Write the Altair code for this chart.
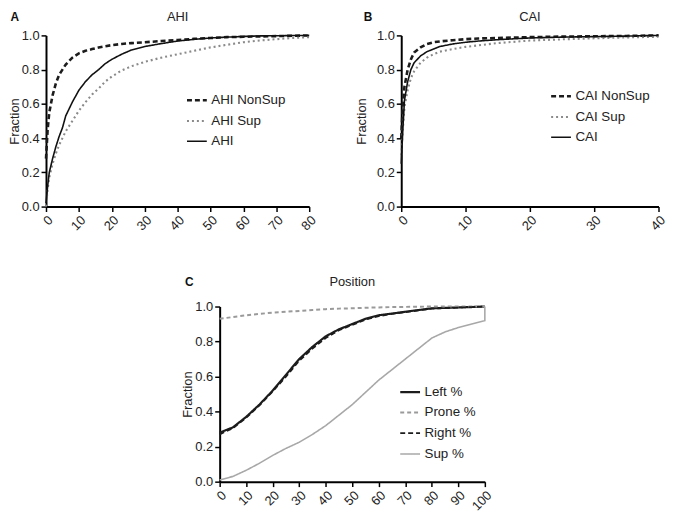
import altair as alt
import pandas as pd

FONT = "Liberation Sans"

# ---------------- Panel A: AHI ----------------
ahi_x = [0, 0.5, 1, 2, 3, 4, 5, 6, 8, 10, 12, 14, 16, 18, 20, 23, 26, 30, 35, 40, 45, 50, 55, 60, 65, 70, 75, 80]
ahi_nonsup = [0.28, 0.45, 0.55, 0.65, 0.72, 0.77, 0.80, 0.83, 0.87, 0.895, 0.91, 0.92, 0.93, 0.937, 0.943, 0.95, 0.955,
              0.96, 0.967, 0.973, 0.98, 0.985, 0.99, 0.992, 0.994, 0.996, 0.998, 1.0]
ahi_sup = [0.0, 0.10, 0.17, 0.25, 0.31, 0.36, 0.40, 0.44, 0.50, 0.56, 0.61, 0.655, 0.69, 0.73, 0.76, 0.795, 0.82,
           0.845, 0.87, 0.89, 0.91, 0.93, 0.945, 0.96, 0.97, 0.978, 0.985, 0.99]
ahi_all = [0.02, 0.12, 0.20, 0.28, 0.35, 0.41, 0.46, 0.53, 0.61, 0.68, 0.73, 0.77, 0.80, 0.835, 0.86, 0.89, 0.915,
           0.935, 0.952, 0.967, 0.977, 0.985, 0.99, 0.994, 0.997, 0.998, 0.999, 1.0]
ahi_series = ["AHI NonSup", "AHI Sup", "AHI"]

# ---------------- Panel B: CAI ----------------
cai_x = [0, 0.25, 0.5, 1, 1.5, 2, 3, 4, 5, 6, 8, 10, 12, 15, 20, 25, 30, 35, 40]
cai_nonsup = [0.40, 0.60, 0.70, 0.80, 0.86, 0.90, 0.93, 0.95, 0.96, 0.965, 0.972, 0.978, 0.982, 0.985, 0.99, 0.993,
              0.995, 0.997, 1.0]
cai_sup = [0.30, 0.45, 0.58, 0.68, 0.75, 0.79, 0.84, 0.87, 0.89, 0.905, 0.92, 0.933, 0.942, 0.955, 0.97, 0.977,
           0.983, 0.988, 0.992]
cai_all = [0.25, 0.45, 0.62, 0.73, 0.80, 0.84, 0.88, 0.905, 0.92, 0.935, 0.95, 0.96, 0.967, 0.975, 0.985, 0.99,
           0.993, 0.996, 1.0]
cai_series = ["CAI NonSup", "CAI Sup", "CAI"]

# ---------------- Panel C: Position ----------------
pos_x = [0, 5, 10, 15, 20, 25, 30, 35, 40, 45, 50, 55, 60, 65, 70, 75, 80, 85, 90, 95, 100]
pos_left = [0.28, 0.31, 0.37, 0.44, 0.52, 0.61, 0.70, 0.77, 0.83, 0.87, 0.90, 0.93, 0.95, 0.96, 0.97, 0.98, 0.99,
            0.992, 0.995, 0.997, 1.0]
pos_prone = [0.93, 0.94, 0.95, 0.958, 0.965, 0.97, 0.975, 0.98, 0.985, 0.988, 0.99, 0.993, 0.995, 0.997, 0.998,
             0.999, 1.0, 1.0, 1.0, 1.0, 1.0]
pos_right = [0.27, 0.305, 0.365, 0.435, 0.515, 0.60, 0.69, 0.76, 0.82, 0.865, 0.895, 0.925, 0.945, 0.958, 0.968,
             0.978, 0.988, 0.991, 0.994, 0.997, 1.0]
pos_sup = [0.01, 0.03, 0.065, 0.105, 0.15, 0.19, 0.225, 0.27, 0.32, 0.38, 0.44, 0.51, 0.58, 0.64, 0.70, 0.76, 0.82,
           0.855, 0.88, 0.90, 0.92]
pos_sup_end_x = [100]
pos_sup_end_y = [1.0]
pos_series = ["Left %", "Prone %", "Right %", "Sup %"]

y_ticks = [0, 0.2, 0.4, 0.6, 0.8, 1.0]


def frame(xs, series_vals, names):
    rows = []
    for name, vals in zip(names, series_vals):
        for i, (x, y) in enumerate(zip(xs, vals)):
            rows.append({"x": x, "y": y, "series": name, "i": i})
    return rows


df_a = pd.DataFrame(frame(ahi_x, [ahi_nonsup, ahi_sup, ahi_all], ahi_series))
df_b = pd.DataFrame(frame(cai_x, [cai_nonsup, cai_sup, cai_all], cai_series))
rows_c = frame(pos_x, [pos_left, pos_prone, pos_right, pos_sup], pos_series)
for k, (x, y) in enumerate(zip(pos_sup_end_x, pos_sup_end_y)):
    rows_c.append({"x": x, "y": y, "series": "Sup %", "i": len(pos_x) + k})
df_c = pd.DataFrame(rows_c)


def panel(df, domain, colors, dashes, widths, xmax, xstep, title, letter, leg_x, leg_y,
          w, h, title_pad, letter_x, head_y):
    leg = alt.Legend(
        title=None, orient="none", legendX=leg_x, legendY=leg_y,
        symbolType="stroke", symbolSize=400, symbolStrokeWidth=2,
        labelFont=FONT, labelFontSize=13.5, labelColor="#222", labelOffset=3,
        rowPadding=3,
    )
    lines = alt.Chart(df).mark_line().encode(
        x=alt.X("x:Q", scale=alt.Scale(domain=[0, xmax], nice=False),
                axis=alt.Axis(values=list(range(0, xmax + 1, xstep)), labelAngle=-45, title=None,
                              format="d")),
        y=alt.Y("y:Q", scale=alt.Scale(domain=[0, 1], nice=False),
                axis=alt.Axis(values=y_ticks, format=".1f", title="Fraction", titlePadding=title_pad)),
        color=alt.Color("series:N", scale=alt.Scale(domain=domain, range=colors), legend=leg),
        strokeDash=alt.StrokeDash("series:N", scale=alt.Scale(domain=domain, range=dashes), legend=leg),
        strokeWidth=alt.StrokeWidth("series:N", scale=alt.Scale(domain=domain, range=widths), legend=None),
        order="i:Q",
    )
    lab = alt.Chart(pd.DataFrame({"t": [letter]})).mark_text(
        align="left", baseline="alphabetic", fontWeight="bold", fontSize=12, font=FONT, color="#111"
    ).encode(text="t:N", x=alt.value(letter_x), y=alt.value(head_y))
    ttl = alt.Chart(pd.DataFrame({"t": [title]})).mark_text(
        align="center", baseline="alphabetic", fontSize=13, font=FONT, color="#222"
    ).encode(text="t:N", x=alt.value(w / 2), y=alt.value(head_y))
    return alt.layer(lines, lab, ttl).properties(width=w, height=h)


pa = panel(df_a, ahi_series, ["#1c1c1c", "#8a8a8a", "#111111"], [[5, 3], [2, 3], [1, 0]], [2.6, 1.6, 2.2],
           80, 10, "AHI", "A", 141, 54, 266, 173, 0, -36, -15)
pb = panel(df_b, cai_series, ["#1c1c1c", "#8a8a8a", "#111111"], [[5, 3], [2, 3], [1, 0]], [2.6, 1.6, 2.2],
           40, 10, "CAI", "B", 150, 50, 260, 173, 8, -38, -15)
pc = panel(df_c, pos_series, ["#1c1c1c", "#9a9a9a", "#1c1c1c", "#a8a8a8"], [[1, 0], [4, 3], [5, 3], [1, 0]],
           [2.2, 1.6, 2.4, 1.8], 100, 10, "Position", "C", 181, 75, 268, 177, 0, -35, -21)

top = alt.hconcat(pa, pb, spacing=36).resolve_scale(
    color="independent", strokeDash="independent", strokeWidth="independent")

chart = alt.vconcat(top, pc, spacing=43, center=True).resolve_scale(
    color="independent", strokeDash="independent", strokeWidth="independent"
).properties(
    padding={"left": 0, "top": 0, "right": 0, "bottom": 0}
).configure_view(stroke=None).configure_axis(
    grid=False, domainColor="#000", domainWidth=2, tickColor="#000", tickWidth=1.5, tickSize=5,
    labelFont=FONT, labelFontSize=13, labelColor="#222", labelPadding=2,
    titleFont=FONT, titleFontSize=13, titleFontWeight="normal", titleColor="#222",
)

chart.save("out.html", embed_options={"renderer": "svg", "actions": False})
